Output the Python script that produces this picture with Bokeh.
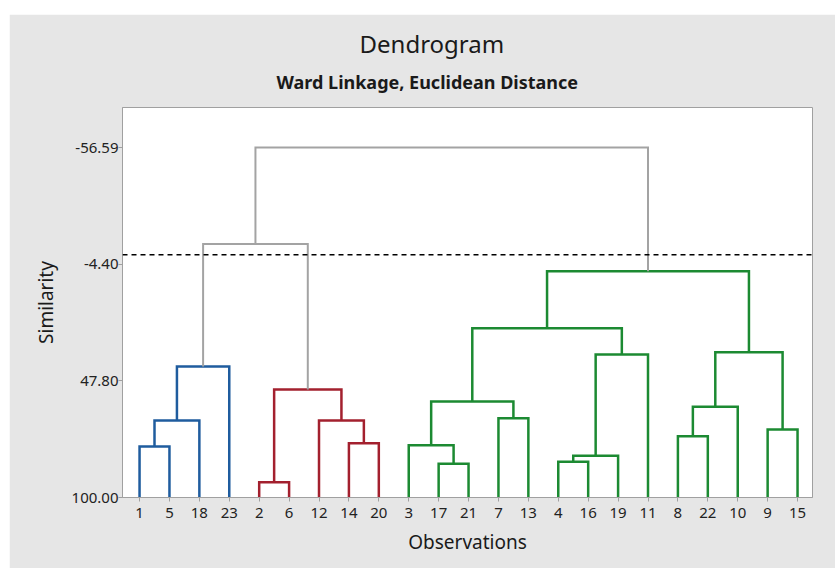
from bokeh.plotting import figure
from bokeh.models import Range1d, FixedTicker, PrintfTickFormatter, Span, Title, ColumnDataSource, Spacer
from bokeh.layouts import column, row
from bokeh.embed import file_html
from bokeh.resources import INLINE

# ---- data ----
leaf_order = [1, 5, 18, 23, 2, 6, 12, 14, 20, 3, 17, 21, 7, 13, 4, 16, 19, 11, 8, 22, 10, 9, 15]
# children: "L<n>" = observation n, "M<k>" = k-th merge below
merge_a = ["L2", "L17", "L4", "M2", "L1", "L3", "L14", "L8", "L9", "M4", "L12",
           "L7", "M7", "M5", "M0", "M9", "M3", "M12", "M13", "M18", "M15", "M20"]
merge_b = ["L6", "L21", "L16", "L19", "L5", "M1", "L20", "L22", "L15", "L18", "M6",
           "L13", "L10", "M11", "M10", "L23", "L11", "M8", "M16", "M17", "M14", "M19"]
merge_sim = [93.16, 84.93, 84.03, 81.35, 77.19, 76.61, 75.71, 72.58, 69.58, 65.56, 65.56,
             64.53, 59.43, 57.06, 51.69, 41.40, 36.04, 35.00, 24.27, -1.22, -13.48, -56.59]
merge_group = ["red", "green", "green", "green", "blue", "green", "red", "green", "green", "blue", "red",
               "green", "green", "green", "red", "blue", "green", "green", "green", "green", "gray", "gray"]
y_ticks = [-56.59, -4.40, 47.80, 100.00]
cut_level = -8.56

palette = {"blue": "#1F5C9E", "red": "#A3202E", "green": "#1C8A32", "gray": "#A3A3A3"}
widths = {"blue": 2.5, "red": 2.5, "green": 2.5, "gray": 2.0}

# ---- build link segments ----
pos = {}
for i, leaf in enumerate(leaf_order):
    pos["L%d" % leaf] = (i + 1, 100.0)

xs, ys, cols, lws = [], [], [], []
for k, (a, b, s, g) in enumerate(zip(merge_a, merge_b, merge_sim, merge_group)):
    xa, ha = pos[a]
    xb, hb = pos[b]
    xs.append([xa, xa, xb, xb])
    ys.append([ha, s, s, hb])
    cols.append(palette[g])
    lws.append(widths[g])
    pos["M%d" % k] = ((xa + xb) / 2.0, s)

src = ColumnDataSource(dict(xs=xs, ys=ys, color=cols, lw=lws))

FONT = "Noto Sans"

p = figure(width=826, height=554, output_backend="svg", toolbar_location=None,
           x_range=Range1d(0.43, 23.5), y_range=Range1d(100, -74.5),
           min_border_left=113, min_border_right=23, min_border_top=93, min_border_bottom=71)
p.border_fill_color = "#E6E6E6"
p.background_fill_color = "white"
p.outline_line_color = "#A0A0A0"
p.grid.visible = False

p.multi_line(xs="xs", ys="ys", line_color="color", line_width="lw", source=src,
             line_join="miter", line_cap="butt")

p.add_layout(Span(location=cut_level, dimension="width", line_color="black",
                  line_width=1.5, line_dash="5 4"))

# axes
p.xaxis.ticker = FixedTicker(ticks=list(range(1, len(leaf_order) + 1)))
p.xaxis.major_label_overrides = {i + 1: str(l) for i, l in enumerate(leaf_order)}
p.yaxis.ticker = FixedTicker(ticks=y_ticks)
p.yaxis.formatter = PrintfTickFormatter(format="%.2f")
p.xaxis.minor_tick_line_color = None
p.yaxis.minor_tick_line_color = None
for ax in (p.xaxis, p.yaxis):
    ax.axis_line_color = "#A0A0A0"
    ax.major_tick_line_color = "#A0A0A0"
    ax.major_tick_out = 4
    ax.major_tick_in = 0
    ax.major_label_text_font = FONT
    ax.major_label_text_font_size = "15px"
    ax.major_label_text_color = "#222222"
    ax.axis_label_text_font = FONT
    ax.axis_label_text_font_size = "19px"
    ax.axis_label_text_font_style = "normal"
    ax.axis_label_text_color = "#1a1a1a"
p.xaxis.major_label_standoff = 6
p.yaxis.major_label_standoff = 0
p.xaxis.axis_label = "Observations"
p.yaxis.axis_label = "Similarity"
p.xaxis.axis_label_standoff = 8
p.yaxis.axis_label_standoff = 10

# titles (subtitle first: closest to the frame)
p.add_layout(Title(text="Ward Linkage, Euclidean Distance", align="left", offset=154,
                   text_font=FONT, text_font_size="18px", text_font_style="bold",
                   text_color="#1a1a1a", standoff=28), "above")
p.add_layout(Title(text="Dendrogram", align="left", offset=237,
                   text_font=FONT, text_font_size="24px", text_font_style="normal",
                   text_color="#1a1a1a", standoff=-13), "above")

layout = column(Spacer(height=14), row(Spacer(width=9), p))
open("out.html", "w").write(file_html(layout, INLINE))
